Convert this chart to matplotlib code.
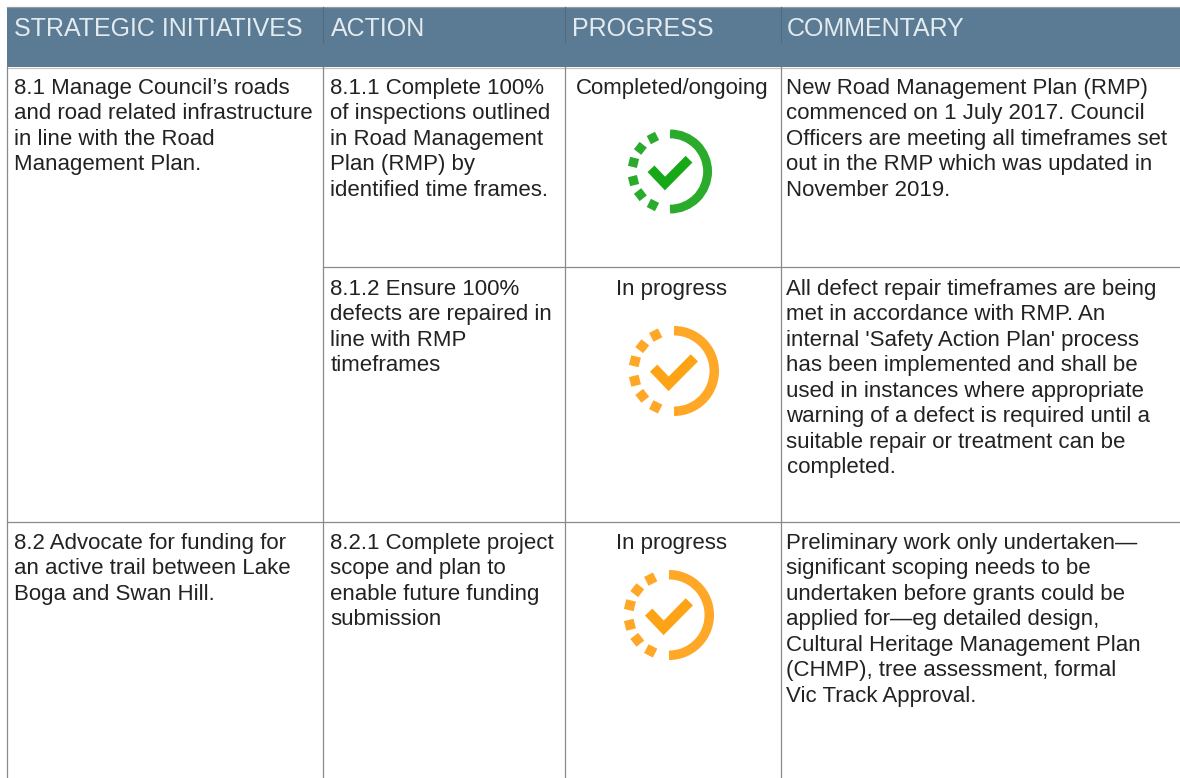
import numpy as np
import matplotlib
matplotlib.use("Agg")
import matplotlib.pyplot as plt
from matplotlib.patches import Arc, Rectangle
from matplotlib.transforms import Affine2D

plt.rcParams['font.family'] = ['Liberation Sans', 'DejaVu Sans']

# Table content
headers = ["STRATEGIC INITIATIVES", "ACTION", "PROGRESS", "COMMENTARY"]
initiatives = [
    ["8.1 Manage Council\u2019s roads", "and road related infrastructure", "in line with the Road", "Management Plan."],
    ["8.2 Advocate for funding for", "an active trail between Lake", "Boga and Swan Hill."],
]
actions = [
    ["8.1.1 Complete 100%", "of inspections outlined", "in Road Management", "Plan (RMP) by", "identified time frames."],
    ["8.1.2 Ensure 100%", "defects are repaired in", "line with RMP", "timeframes"],
    ["8.2.1 Complete project", "scope and plan to", "enable future funding", "submission"],
]
progress = ["Completed/ongoing", "In progress", "In progress"]
commentary = [
    ["New Road Management Plan (RMP)", "commenced on 1 July 2017. Council", "Officers are meeting all timeframes set",
     "out in the RMP which was updated in", "November 2019."],
    ["All defect repair timeframes are being", "met in accordance with RMP. An", "internal 'Safety Action Plan' process",
     "has been implemented and shall be", "used in instances where appropriate", "warning of a defect is required until a",
     "suitable repair or treatment can be", "completed."],
    ["Preliminary work only undertaken\u2014", "significant scoping needs to be", "undertaken before grants could be",
     "applied for\u2014eg detailed design,", "Cultural Heritage Management Plan", "(CHMP), tree assessment, formal",
     "Vic Track Approval."],
]

# Layout in pixels
col_lines = [7, 323, 565, 781]
row_tops = [93.5, 294.5, 548.5]
icon_centres = [(670, 171.5, 42), (674, 371, 45), (669, 615, 45)]
icon_colours = ["#2bab2b", "#ffa726", "#ffa726"]
check_colours = ["#17a817", "#ffa316", "#ffa316"]
dot_angles = [117, 142, 166, 194, 218, 243]
line_h = 25.55
text_col = "#222222"
body_size = 16
head_size = 18

fig = plt.figure(figsize=(11.8, 7.78), dpi=100)
ax = fig.add_axes([0, 0, 1, 1])
ax.set_xlim(0, 1180)
ax.set_ylim(778, 0)
ax.axis("off")


def put_lines(x, y, lines):
    for i, s in enumerate(lines):
        ax.text(x, y + i * line_h, s, fontsize=body_size, color=text_col, va="baseline", ha="left")


def draw_icon(cx, cy, r, col, check_col):
    lw_px = r * 0.21
    rm = r - lw_px / 2
    ax.add_patch(Arc((cx, cy), 2 * rm, 2 * rm, theta1=-90, theta2=90, color=col, lw=lw_px * 0.72,
                     capstyle="butt"))
    # dots, y axis is flipped so sin is negated
    for a in dot_angles:
        t = np.deg2rad(a)
        dx, dy = rm * np.cos(t), -rm * np.sin(t)
        s = r * 0.22
        rot = Affine2D().rotate_deg_around(cx + dx, cy + dy, 90 - a)
        ax.add_patch(Rectangle((cx + dx - s / 2, cy + dy - s / 2), s, s, color=col, lw=0,
                               transform=rot + ax.transData))
    k = r / 42
    ax.plot([cx - 19 * k, cx - 5 * k, cx + 19 * k], [cy - 2.7 * k, cy + 12 * k, cy - 12.3 * k], color=check_col,
            lw=9.5 * k * 0.72, solid_joinstyle="miter", solid_capstyle="butt")


# Header band
ax.add_patch(Rectangle((7, 7), 1173, 60, color="#5b7b94", lw=0))
ax.plot([7, 1180], [6.5, 6.5], color="#9a9a9a", lw=0.9)
ax.plot([7, 1180], [67.5, 67.5], color="#c4c4c4", lw=0.9)
for x, s in zip([14, 331, 572, 787], headers):
    ax.text(x, 35.5, s, fontsize=head_size, color="#e4ebef", va="baseline", ha="left")
for x in col_lines[1:]:
    ax.plot([x, x], [7, 42], color="#4f6b80", lw=0.8)

# Grid lines
for x in col_lines:
    ax.plot([x, x], [67, 778], color="#8a8a8a", lw=0.9)
ax.plot([323, 1180], [266.5, 266.5], color="#8a8a8a", lw=0.9)
ax.plot([7, 1180], [521.5, 521.5], color="#8a8a8a", lw=0.9)

# Body text
put_lines(14, row_tops[0], initiatives[0])
put_lines(14, row_tops[2], initiatives[1])
for i in range(3):
    put_lines(330.5, row_tops[i], actions[i])
    ax.text(672, row_tops[i], progress[i], fontsize=body_size, color=text_col, va="baseline", ha="center")
    put_lines(786.5, row_tops[i], commentary[i])
    cx, cy, r = icon_centres[i]
    draw_icon(cx, cy, r, icon_colours[i], check_colours[i])

fig.savefig("out.png", dpi=100, facecolor="white")
